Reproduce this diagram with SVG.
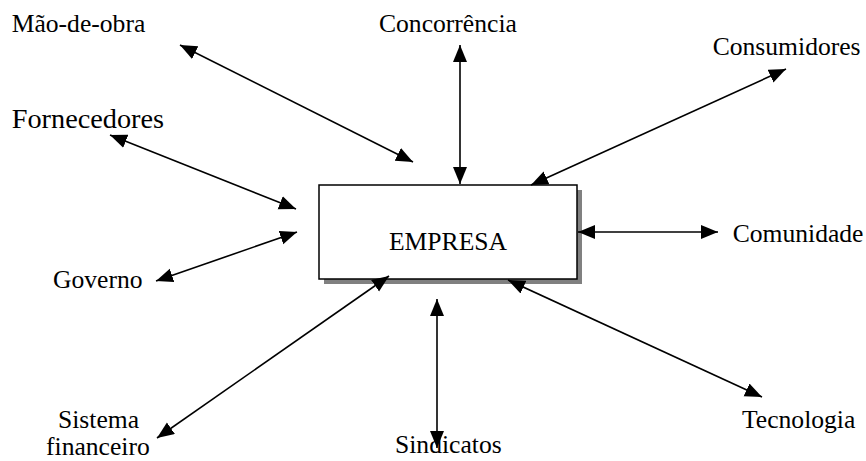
<svg xmlns="http://www.w3.org/2000/svg" width="866" height="461" viewBox="0 0 866 461">
<style>
text{font-family:"Liberation Serif","Times New Roman",serif;font-size:25.6px;fill:#000}
.c{stroke:#000;stroke-width:1.6;fill:none;marker-start:url(#ah);marker-end:url(#ah)}
</style>
<defs>
<marker id="ah" markerUnits="userSpaceOnUse" markerWidth="18" markerHeight="15" refX="17" refY="7" orient="auto-start-reverse" viewBox="0 0 18 15">
<path d="M0,0 L17,7 L0,14 z" fill="#000"/>
</marker>
</defs>
<rect width="866" height="461" fill="#fff"/>
<g id="empresa">
<rect x="324" y="190" width="258" height="94" fill="#808080"/>
<rect x="319" y="185" width="258" height="94" fill="#fff" stroke="#000" stroke-width="1.5"/>
<text x="448" y="250" text-anchor="middle">EMPRESA</text>
</g>
<g id="mao-de-obra"><text x="11.7" y="32">Mão-de-obra</text></g>
<g id="concorrencia"><text x="379" y="32">Concorrência</text></g>
<g id="consumidores"><text x="712.7" y="55">Consumidores</text></g>
<g id="fornecedores"><text x="11.7" y="128" style="font-size:28.3px">Fornecedores</text></g>
<g id="comunidade"><text x="732.7" y="241.7">Comunidade</text></g>
<g id="governo"><text x="53" y="288">Governo</text></g>
<g id="sistema-financeiro"><text x="58" y="428">Sistema</text><text x="46" y="455">financeiro</text></g>
<g id="sindicatos"><text x="395" y="453">Sindicatos</text></g>
<g id="tecnologia"><text x="742" y="428">Tecnologia</text></g>
<g id="connectors">
<line class="c" x1="180" y1="45" x2="413" y2="162"/>
<line class="c" x1="460" y1="45" x2="460" y2="184"/>
<line class="c" x1="786" y1="69" x2="531" y2="185"/>
<line class="c" x1="110" y1="135" x2="296" y2="209"/>
<line class="c" x1="156" y1="281" x2="297" y2="232"/>
<line class="c" x1="578" y1="232" x2="718" y2="232"/>
<line class="c" x1="157" y1="438" x2="389" y2="276"/>
<line class="c" x1="437" y1="299" x2="437" y2="448"/>
<line class="c" x1="508" y1="280" x2="762" y2="397"/>
</g>
</svg>
